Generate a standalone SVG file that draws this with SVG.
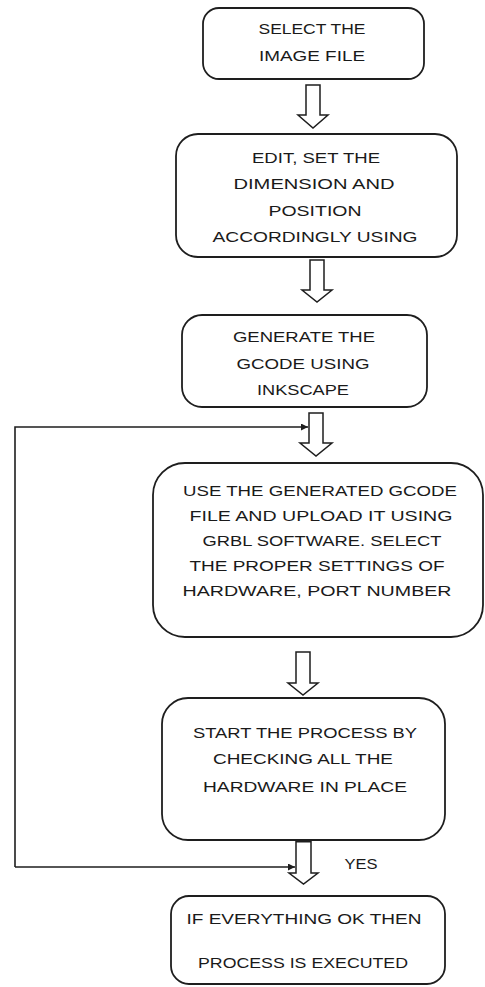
<svg xmlns="http://www.w3.org/2000/svg" width="485" height="987" viewBox="0 0 485 987">
  <style>
    .box { fill: #ffffff; stroke: #1e1e1e; stroke-width: 1.8; }
    .blk { fill: #ffffff; stroke: #1e1e1e; stroke-width: 1.5; stroke-linejoin: miter; }
    .line { fill: none; stroke: #1e1e1e; stroke-width: 1.6; }
    text { font-family: "Liberation Sans", "DejaVu Sans", sans-serif; font-size: 15.5px; fill: #1a1a1a; text-anchor: middle; dominant-baseline: central; }
  </style>
  <defs>
    <marker id="tip" viewBox="0 0 10 10" refX="10" refY="5" markerWidth="9" markerHeight="7" markerUnits="userSpaceOnUse" orient="auto">
      <path d="M0,0 L10,5 L0,10 z" fill="#1e1e1e"/>
    </marker>
  </defs>
  <rect width="485" height="987" fill="#ffffff"/>

  <!-- flow steps -->
  <g id="select-image">
    <rect class="box" x="203" y="8" width="221" height="71" rx="16"/>
    <text x="312" y="28" textLength="107" lengthAdjust="spacingAndGlyphs">SELECT THE</text>
    <text x="312" y="55" textLength="106" lengthAdjust="spacingAndGlyphs">IMAGE FILE</text>
  </g>

  <g id="edit-dimension">
    <rect class="box" x="176" y="134" width="281" height="123" rx="22"/>
    <text x="316" y="157" textLength="128" lengthAdjust="spacingAndGlyphs">EDIT, SET THE</text>
    <text x="314" y="183" textLength="161" lengthAdjust="spacingAndGlyphs">DIMENSION AND</text>
    <text x="315" y="210" textLength="93" lengthAdjust="spacingAndGlyphs">POSITION</text>
    <text x="315" y="236" textLength="205" lengthAdjust="spacingAndGlyphs">ACCORDINGLY USING</text>
  </g>

  <g id="generate-gcode">
    <rect class="box" x="182" y="315" width="245" height="92" rx="20"/>
    <text x="304" y="336" textLength="142" lengthAdjust="spacingAndGlyphs">GENERATE THE</text>
    <text x="303" y="363" textLength="133" lengthAdjust="spacingAndGlyphs">GCODE USING</text>
    <text x="303" y="389" textLength="92" lengthAdjust="spacingAndGlyphs">INKSCAPE</text>
  </g>

  <g id="upload-grbl">
    <rect class="box" x="153" y="463" width="330" height="174" rx="32"/>
    <text x="320" y="490" textLength="274" lengthAdjust="spacingAndGlyphs">USE THE GENERATED GCODE</text>
    <text x="321" y="515" textLength="263" lengthAdjust="spacingAndGlyphs">FILE AND UPLOAD IT USING</text>
    <text x="322" y="540" textLength="239" lengthAdjust="spacingAndGlyphs">GRBL SOFTWARE. SELECT</text>
    <text x="317" y="565" textLength="255" lengthAdjust="spacingAndGlyphs">THE PROPER SETTINGS OF</text>
    <text x="317" y="590" textLength="269" lengthAdjust="spacingAndGlyphs">HARDWARE, PORT NUMBER</text>
  </g>

  <g id="start-process">
    <rect class="box" x="162" y="698" width="283" height="142" rx="26"/>
    <text x="305" y="732" textLength="224" lengthAdjust="spacingAndGlyphs">START THE PROCESS BY</text>
    <text x="303" y="758" textLength="180" lengthAdjust="spacingAndGlyphs">CHECKING ALL THE</text>
    <text x="305" y="786" textLength="204" lengthAdjust="spacingAndGlyphs">HARDWARE IN PLACE</text>
  </g>

  <g id="executed">
    <rect class="box" x="171" y="896" width="274" height="88" rx="18"/>
    <text x="304" y="918" textLength="235" lengthAdjust="spacingAndGlyphs">IF EVERYTHING OK THEN</text>
    <text x="303" y="962" textLength="210" lengthAdjust="spacingAndGlyphs">PROCESS IS EXECUTED</text>
  </g>

  <!-- connectors: hollow block arrows and the feedback loop -->
  <g id="connectors">
    <path class="blk" d="M306,85 H320 V115 H328 L313,128 L298,115 H306 Z"/>
    <path class="blk" d="M310,260 H324 V290 H332 L317,302 L302,290 H310 Z"/>
    <path class="blk" d="M309,413 H323 V443 H332 L316,456 L300,443 H309 Z"/>
    <path class="blk" d="M296,652 H310 V683 H318 L303,695 L288,683 H296 Z"/>
    <path class="blk" d="M296,841 H311 V873 H318 L303.5,884 L289,873 H296 Z"/>
    <rect x="296" y="839" width="15" height="3.5" fill="#1e1e1e"/>
    <path class="line" d="M15,867 V427 H308" marker-end="url(#tip)"/>
    <path class="line" d="M15,867 H295" marker-end="url(#tip)"/>
    <text x="361" y="863" textLength="33" lengthAdjust="spacingAndGlyphs">YES</text>
  </g>
</svg>
